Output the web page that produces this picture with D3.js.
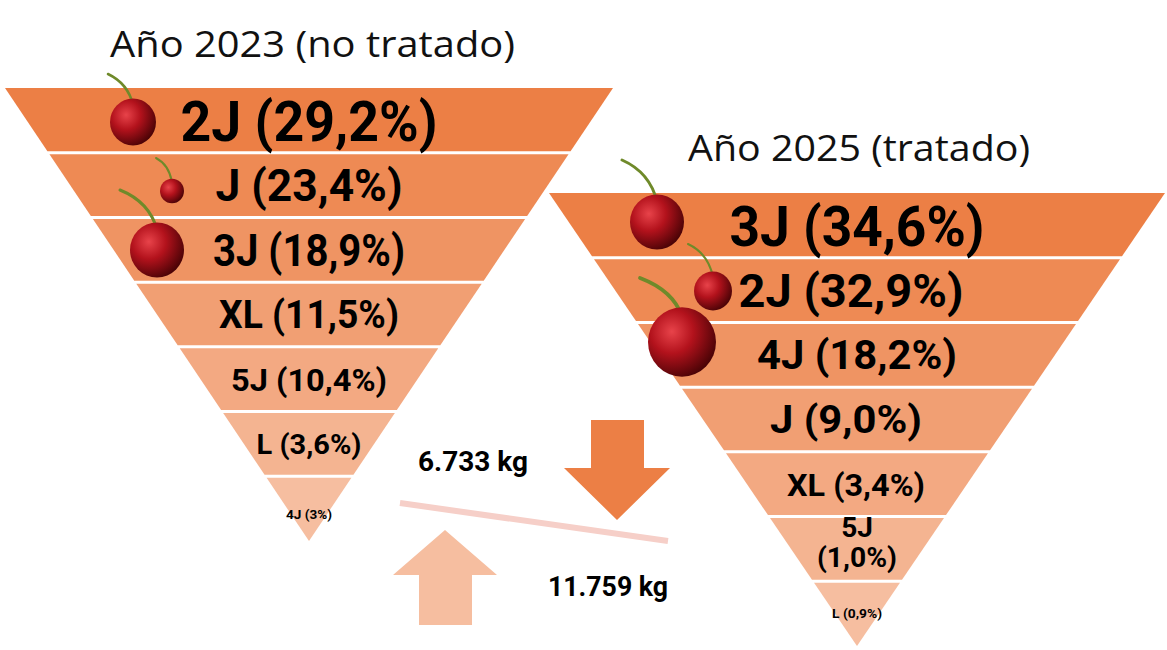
<!DOCTYPE html>
<html><head><meta charset="utf-8">
<script src="https://cdn.jsdelivr.net/npm/d3@7"></script>
<style>body{margin:0;background:#fff}svg{display:block}</style>
</head><body><div id="chart"></div>
<script>
// calibres 2023 (no tratado) y 2025 (tratado), de arriba a abajo
const left2023 = ["2J", "J", "3J", "XL", "5J", "L", "4J"];
const leftPct = ["29,2%", "23,4%", "18,9%", "11,5%", "10,4%", "3,6%", "3%"];
const right2025 = ["3J", "2J", "4J", "J", "XL", "5J", "L"];
const rightPct = ["34,6%", "32,9%", "18,2%", "9,0%", "3,4%", "1,0%", "0,9%"];
const kg2023 = "6.733 kg";
const kg2025 = "11.759 kg";

const width = 1167, height = 650;
const svg = d3.select("#chart").append("svg").attr("width", width).attr("height", height);
const defs = svg.append("defs");
const g = defs.append("radialGradient").attr("id", "cherry").attr("cx", "35%").attr("cy", "35%").attr("r", "70%");
g.append("stop").attr("offset", "0%").attr("stop-color", "#e8434a");
g.append("stop").attr("offset", "45%").attr("stop-color", "#b3121c");
g.append("stop").attr("offset", "100%").attr("stop-color", "#4a0306");

const color = d3.scaleLinear().domain([0, 6]).range(["#ec7f45", "#f6bea0"]);
const font = "'Liberation Sans Narrow', 'Roboto', sans-serif";

function funnel(cfg) {
  const y = d3.scaleBand().domain(d3.range(cfg.labels.length)).range([cfg.top, cfg.apex]);
  const half = d3.scaleLinear().domain([cfg.top, cfg.apex]).range([cfg.halfWidth, 0]);
  const grp = svg.append("g");
  grp.selectAll("path").data(cfg.labels).join("path")
    .attr("d", (d, i) => {
      const y0 = y(i) + (i ? 1.5 : 0), y1 = y(i) + y.bandwidth() - 1.5;
      const y1c = i === cfg.labels.length - 1 ? cfg.apex : y1;
      return `M${cfg.cx - half(y0)},${y0}L${cfg.cx + half(y0)},${y0}L${cfg.cx + half(y1c)},${y1c}L${cfg.cx - half(y1c)},${y1c}Z`;
    })
    .attr("fill", (d, i) => color(i));
  grp.selectAll("text").data(cfg.labels).join("text")
    .attr("font-family", font).attr("font-weight", "bold")
    .attr("text-anchor", "middle")
    .attr("font-size", (d, i) => cfg.sizes[i])
    .each(function (d, i) {
      const t = d3.select(this);
      const cy = y(i) + y.bandwidth() / 2 + cfg.dy[i];
      if (cfg.split && cfg.split[i]) {
        t.append("tspan").attr("x", cfg.cx).attr("y", cy - 12).text(d);
        t.append("tspan").attr("x", cfg.cx).attr("y", cy + 18)
          .attr("textLength", cfg.lens[i]).attr("lengthAdjust", "spacingAndGlyphs").text(`(${cfg.pct[i]})`);
      } else {
        t.attr("x", cfg.cx + cfg.dx[i]).attr("y", cy + cfg.sizes[i] * 0.36)
          .attr("textLength", cfg.lens[i]).attr("lengthAdjust", "spacingAndGlyphs")
          .text(`${d} (${cfg.pct[i]})`);
      }
    });
  svg.append("text").attr("x", cfg.titleX).attr("y", cfg.titleY)
    .attr("font-family", "'Open Sans', sans-serif").attr("font-size", 36).attr("fill", "#111")
    .attr("textLength", cfg.titleLen).attr("lengthAdjust", "spacingAndGlyphs")
    .text(cfg.title);
}

funnel({ labels: left2023, pct: leftPct, cx: 309, top: 88, apex: 541, halfWidth: 304,
  sizes: [56, 44, 44, 38, 32, 28, 12], lens: [257, 187, 192, 180, 156, 105, 46],
  dx: [0, 0, 0, 0, 0, 0, 0], dy: [0, 0, 0, 0, 0, 0, 6],
  title: "Año 2023 (no tratado)", titleX: 110, titleY: 57, titleLen: 405 });
funnel({ labels: right2025, pct: rightPct, cx: 857, top: 193, apex: 646, halfWidth: 308,
  sizes: [56, 46, 40, 38, 32, 28, 12], lens: [255, 225, 200, 152, 138, 80, 50],
  dx: [0, -6, 0, -11, -1, 0, 0], dy: [0, 0, 0, 0, 0, 0, 0],
  split: [0, 0, 0, 0, 0, 1, 0],
  title: "Año 2025 (tratado)", titleX: 688, titleY: 161, titleLen: 342 });

// cerezas decorativas [x, y, radio, stemX, stemY]
const cherries = [[133, 122, 23, 108, 74], [172, 191, 12, 156, 158], [157, 250, 27, 120, 190],
  [657, 222, 27, 622, 160], [713, 291, 19, 688, 244], [682, 342, 34, 640, 278]];
const ch = svg.append("g").selectAll("g").data(cherries).join("g");
ch.append("path")
  .attr("d", d => `M${d[0]},${d[1] - d[2] * 0.75}Q${d[0] - (d[0] - d[3]) * 0.2},${d[4] + (d[1] - d[4]) * 0.2} ${d[3]},${d[4]}`)
  .attr("fill", "none").attr("stroke", "#6f8a2a").attr("stroke-width", d => Math.max(2, d[2] / 9)).attr("stroke-linecap", "round");
ch.append("ellipse").attr("cx", d => d[0]).attr("cy", d => d[1]).attr("rx", d => d[2]).attr("ry", d => d[2] * 1.02)
  .attr("fill", "url(#cherry)");

// flechas y balanza
svg.append("path").attr("d", "M591,420L644,420L644,468L670,468L617,520L564,468L591,468Z").attr("fill", "#ec7f45");
svg.append("path").attr("d", "M445,530L497,575L472,575L472,625L419,625L419,575L393,575Z").attr("fill", "#f6bea0");
svg.append("line").attr("x1", 400).attr("y1", 503).attr("x2", 668).attr("y2", 541)
  .attr("stroke", "#f6cfc8").attr("stroke-width", 6);
svg.append("text").attr("x", 418).attr("y", 471).attr("font-family", font).attr("font-weight", "bold")
  .attr("font-size", 27).attr("textLength", 110).attr("lengthAdjust", "spacingAndGlyphs").text(kg2023);
svg.append("text").attr("x", 548).attr("y", 596).attr("font-family", font).attr("font-weight", "bold")
  .attr("font-size", 27).attr("textLength", 120).attr("lengthAdjust", "spacingAndGlyphs").text(kg2025);
</script></body></html>
